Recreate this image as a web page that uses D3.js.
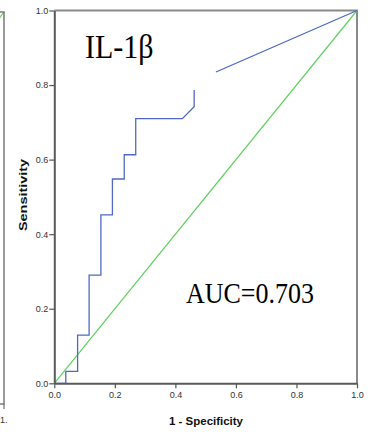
<!DOCTYPE html>
<html><head><meta charset="utf-8">
<script src="https://cdn.jsdelivr.net/npm/d3@7"></script>
<style>html,body{margin:0;padding:0;background:#fff;overflow:hidden}</style>
</head><body>
<svg id="c" width="370" height="434"></svg>
<script>
// data
const fpr = [0, 0.038, 0.038, 0.077, 0.077, 0.115, 0.115, 0.154, 0.154, 0.192, 0.192, 0.231, 0.231, 0.269, 0.269, 0.423, 0.462, 0.462, null, 0.534, 1.0];
const tpr = [0, 0, 0.032, 0.032, 0.129, 0.129, 0.290, 0.290, 0.452, 0.452, 0.548, 0.548, 0.613, 0.613, 0.710, 0.710, 0.742, 0.787, null, 0.835, 1.0];
const refX = [0, 1];
const refY = [0, 1];
const xTicks = [0, 0.2, 0.4, 0.6, 0.8, 1.0];
const yTicks = [0, 0.2, 0.4, 0.6, 0.8, 1.0];
const title = "IL-1β";
const aucLabel = "AUC=0.703";
const xLabel = "1 - Specificity";
const yLabel = "Sensitivity";

const svg = d3.select("#c");
const x = d3.scaleLinear().domain([0, 1]).range([54.3, 357]);
const y = d3.scaleLinear().domain([0, 1]).range([383.3, 10.5]);

// neighbouring panel fragment (cropped at left edge)
const xl = d3.scaleLinear().domain([0, 1]).range([-299, 4]);
const yl = d3.scaleLinear().domain([0, 1]).range([404, 12]);
svg.append("line").attr("x1", xl(0.97)).attr("y1", yl(0.97)).attr("x2", xl(1)).attr("y2", yl(1))
  .attr("stroke", "#66cc66").attr("stroke-width", 1.2);
svg.append("path").attr("d", `M${xl(0.97)},${yl(1)}H${xl(1)}V${yl(0)}H${xl(0.97)}`)
  .attr("fill", "none").attr("stroke", "#7a7a7a").attr("stroke-width", 1.5);
svg.append("line").attr("x1", xl(1)).attr("x2", xl(1)).attr("y1", yl(0)).attr("y2", yl(0) + 5)
  .attr("stroke", "#555").attr("stroke-width", 1);
svg.append("text").attr("x", 0).attr("y", 423).text("1.")
  .attr("font-family", "Liberation Sans, Arial, sans-serif").attr("font-size", 9).attr("fill", "#333");

// frame top/right
svg.append("path").attr("d", `M${x(0)},${y(1)}H${x(1)}V${y(0)}`)
  .attr("fill", "none").attr("stroke", "#8a8a8a").attr("stroke-width", 2);

// reference diagonal
const line = d3.line().defined(d => d[0] !== null).x(d => x(d[0])).y(d => y(d[1]));
svg.append("path").datum(refX.map((v, i) => [v, refY[i]])).attr("d", line)
  .attr("fill", "none").attr("stroke", "#62d062").attr("stroke-width", 1.2);

// ROC curve
svg.append("path").datum(fpr.map((v, i) => [v, tpr[i]])).attr("d", line)
  .attr("fill", "none").attr("stroke", "#5068c4").attr("stroke-width", 1.3);

// axes
const fmt = d3.format(".1f");
const gx = svg.append("g").attr("transform", `translate(0,${y(0)})`)
  .call(d3.axisBottom(x).tickValues(xTicks).tickFormat(fmt).tickSize(5).tickSizeOuter(0).tickPadding(3));
const gy = svg.append("g").attr("transform", `translate(${x(0)},0)`)
  .call(d3.axisLeft(y).tickValues(yTicks).tickFormat(fmt).tickSize(5).tickSizeOuter(0).tickPadding(1));
[gx, gy].forEach(g => {
  g.select(".domain").attr("stroke", "#5a5a5a").attr("stroke-width", 2);
  g.selectAll(".tick line").attr("stroke", "#555").attr("stroke-width", 1.2);
  g.selectAll(".tick text").attr("font-family", "Liberation Sans, Arial, sans-serif")
    .attr("font-size", 9).attr("fill", "#333");
});

// axis titles
svg.append("text").attr("x", 206).attr("y", 425).attr("text-anchor", "middle")
  .attr("font-family", "Liberation Sans, Arial, sans-serif").attr("font-weight", "bold")
  .attr("font-size", 11).attr("fill", "#111").attr("textLength", 74).attr("lengthAdjust", "spacingAndGlyphs")
  .text(xLabel);
svg.append("text").attr("transform", "translate(27,195) rotate(-90)").attr("text-anchor", "middle")
  .attr("font-family", "Liberation Sans, Arial, sans-serif").attr("font-weight", "bold")
  .attr("font-size", 11).attr("fill", "#111").attr("textLength", 72).attr("lengthAdjust", "spacingAndGlyphs")
  .text(yLabel);

// title & AUC
svg.append("text").attr("transform", "translate(85,58) scale(1,1.13)")
  .attr("font-family", "Liberation Serif, Times New Roman, serif").attr("font-size", 30).attr("fill", "#000")
  .text(title);
svg.append("text").attr("transform", "translate(186,303) scale(1,1.15)")
  .attr("font-family", "Liberation Serif, Times New Roman, serif").attr("font-size", 26).attr("fill", "#000")
  .text(aucLabel);
</script>
</body></html>
